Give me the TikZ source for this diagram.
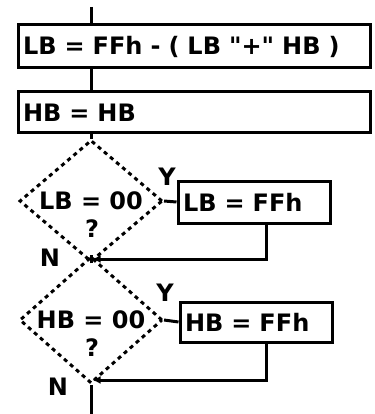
\documentclass[tikz,border=0pt]{standalone}
\usepackage{fontspec}
\setsansfont{DejaVu Sans}
\usetikzlibrary{shapes.geometric,arrows.meta}
\begin{document}
\begin{tikzpicture}[x=1pt,y=-1pt,line width=3pt,>={Latex[length=8pt,width=8pt]},
  every node/.style={font=\fontsize{24}{28}\sffamily\bfseries},
  box/.style={draw,rectangle,inner xsep=5pt,align=left},
  test/.style={draw,diamond,dash pattern=on 4pt off 4pt,inner sep=0pt,minimum width=143pt,minimum height=98pt},
  back/.style={->,shorten >=1.5pt}]
\useasboundingbox (0,0) rectangle (374,414);
\coordinate (start) at (91,7);
\node[box,minimum height=43pt,text width=342pt] (lb1) at (194,46.5) {LB = FFh - ( LB \textquotedbl+\textquotedbl\ HB )};
\node[box,minimum height=41pt,text width=342pt] (hb1) at (194,112.5) {HB = HB};
\node[test] (lbz) at (91,201) {LB = 00};
\node (q1) at (92,229) {?};
\node[box,minimum height=42pt,text width=142pt] (lb2) at (254,202) {LB = FFh};
\node[test] (hbz) at (91,320) {HB = 00};
\node (q2) at (92,348) {?};
\node[box,minimum height=40pt,text width=142pt] (hb2) at (256,322) {HB = FFh};
\coordinate (j1) at (91,259);
\coordinate (j2) at (91,380);
\coordinate (stop) at (91,414);
\draw (start) -- (start |- lb1.north);
\draw (lb1.south -| start) -- (hb1.north -| start);
\draw (hb1.south -| start) -- (lbz.north);
\draw (lbz.east) -- (lb2.west);
\node at (167,177) {Y};
\draw[back] ([xshift=12pt]lb2.south) |- (j1);
\draw (lbz.south) -- (hbz.north);
\node at (50,258) {N};
\draw (hbz.east) -- (hb2.west);
\node at (165,293) {Y};
\draw[back] ([xshift=10pt]hb2.south) |- (j2);
\draw (hbz.south) -- (stop);
\node at (58,387) {N};
\end{tikzpicture}
\end{document}
